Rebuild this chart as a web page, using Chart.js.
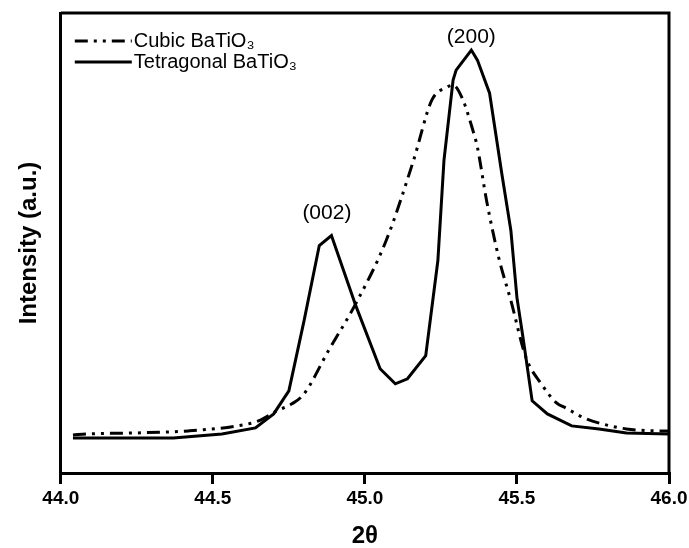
<!DOCTYPE html>
<html>
<head>
<meta charset="utf-8">
<script src="https://cdn.jsdelivr.net/npm/chart.js@4.4.1/dist/chart.umd.min.js"></script>
<style>
  html, body { margin: 0; padding: 0; background: #fff; }
  #wrap { width: 689px; height: 548px; }
</style>
</head>
<body>
<div id="wrap"><canvas id="xrd"></canvas></div>
<script>
// 2θ positions and intensities (a.u.)
const xCubic = [44.04, 44.09, 44.25, 44.42, 44.58, 44.65, 44.71, 44.76, 44.80, 44.88, 44.97, 45.07, 45.16, 45.22, 45.27, 45.29, 45.32, 45.355, 45.37, 45.40, 45.44, 45.48, 45.53, 45.58, 45.63, 45.66, 45.72, 45.78, 45.86, 45.97, 46.0];
const yCubic = [38, 39, 40, 42, 47, 52, 62, 69, 79, 122, 169, 232, 312, 372, 385, 387, 374, 342, 325, 272, 215, 172, 115, 89, 70, 65, 55, 49, 44, 42, 42];

const xTetra = [44.04, 44.19, 44.37, 44.53, 44.64, 44.70, 44.75, 44.80, 44.85, 44.89, 44.97, 45.05, 45.10, 45.14, 45.20, 45.24, 45.26, 45.29, 45.30, 45.35, 45.37, 45.41, 45.45, 45.48, 45.50, 45.52, 45.55, 45.60, 45.68, 45.77, 45.86, 46.0];
const yTetra = [35, 35, 35, 39, 45, 59, 82, 152, 227, 237, 167, 104, 89, 94, 117, 212, 312, 392, 402, 422, 412, 379, 299, 242, 175, 135, 72, 59, 47, 44, 40, 39];

const seriesNames = ['Cubic BaTiO\u2083', 'Tetragonal BaTiO\u2083'];
const xTicks = [44.0, 44.5, 45.0, 45.5, 46.0];

// peak labels
const peakText = ['(002)', '(200)'];
const peakX = [44.875, 45.35];
const peakY = [259, 435];

const toPts = (xs, ys) => xs.map((x, i) => ({ x: x, y: ys[i] }));

// legend drawn inside the plot, top left
const innerLegend = {
  id: 'innerLegend',
  afterDatasetsDraw(chart) {
    const ctx = chart.ctx;
    const a = chart.chartArea;
    ctx.save();
    ctx.font = '20px "Liberation Sans", Arial, sans-serif';
    ctx.fillStyle = '#000';
    ctx.textBaseline = 'middle';
    chart.data.datasets.forEach((ds, i) => {
      const y = a.top + 28 + i * 21;
      ctx.beginPath();
      ctx.lineWidth = ds.borderWidth;
      ctx.strokeStyle = ds.borderColor;
      ctx.setLineDash(ds.borderDash || []);
      ctx.moveTo(a.left + 14, y);
      ctx.lineTo(a.left + 71, y);
      ctx.stroke();
      ctx.setLineDash([]);
      ctx.fillText(ds.label, a.left + 73, y);
    });
    // peak annotations
    ctx.textAlign = 'center';
    ctx.font = '21px "Liberation Sans", Arial, sans-serif';
    const sx = chart.scales.x, sy = chart.scales.y;
    peakText.forEach((t, i) => {
      ctx.fillText(t, sx.getPixelForValue(peakX[i]), sy.getPixelForValue(peakY[i]));
    });
    // top and right frame
    ctx.lineWidth = 3;
    ctx.strokeStyle = '#000';
    ctx.beginPath();
    ctx.moveTo(a.left, a.top);
    ctx.lineTo(a.right, a.top);
    ctx.lineTo(a.right, a.bottom);
    ctx.stroke();
    ctx.restore();
  }
};

new Chart(document.getElementById('xrd'), {
  type: 'line',
  data: {
    datasets: [
      {
        label: seriesNames[0],
        data: toPts(xCubic, yCubic),
        borderColor: '#000',
        borderWidth: 3,
        borderDash: [13, 6, 3, 6, 3, 6],
        pointRadius: 0,
        cubicInterpolationMode: 'monotone',
        fill: false
      },
      {
        label: seriesNames[1],
        data: toPts(xTetra, yTetra),
        borderColor: '#000',
        borderWidth: 3,
        pointRadius: 0,
        tension: 0,
        fill: false
      }
    ]
  },
  options: {
    responsive: true,
    maintainAspectRatio: false,
    animation: false,
    layout: { padding: { top: 13, right: 20, left: 0, bottom: 0 } },
    plugins: {
      legend: { display: false },
      tooltip: { enabled: false }
    },
    scales: {
      x: {
        type: 'linear',
        min: 44,
        max: 46,
        afterBuildTicks: (axis) => { axis.ticks = xTicks.map(v => ({ value: v })); },
        // let the last label run to the canvas edge, as in the original
        afterFit: (axis) => { axis.paddingRight = 0; },
        ticks: {
          color: '#000',
          padding: 5,
          font: { family: '"Liberation Sans", Arial, sans-serif', size: 19, weight: 'bold', lineHeight: 1 },
          callback: (v) => Number(v).toFixed(1),
          maxRotation: 0
        },
        grid: { drawOnChartArea: false, drawTicks: true, tickLength: 11, color: '#000', lineWidth: 3 },
        border: { display: true, color: '#000', width: 3 },
        title: {
          display: true,
          text: '2θ',
          color: '#000',
          padding: { top: 11, bottom: 0 },
          font: { family: '"Liberation Sans", Arial, sans-serif', size: 24, weight: 'bold', lineHeight: 1 }
        }
      },
      y: {
        min: 0,
        max: 459,
        ticks: { display: false },
        grid: { display: false, drawTicks: false },
        border: { display: true, color: '#000', width: 3 },
        title: {
          display: true,
          text: 'Intensity (a.u.)',
          color: '#000',
          padding: { top: 15, bottom: 17 },
          font: { family: '"Liberation Sans", Arial, sans-serif', size: 24, weight: 'bold', lineHeight: 1.2 }
        }
      }
    }
  },
  plugins: [innerLegend]
});
</script>
</body>
</html>
